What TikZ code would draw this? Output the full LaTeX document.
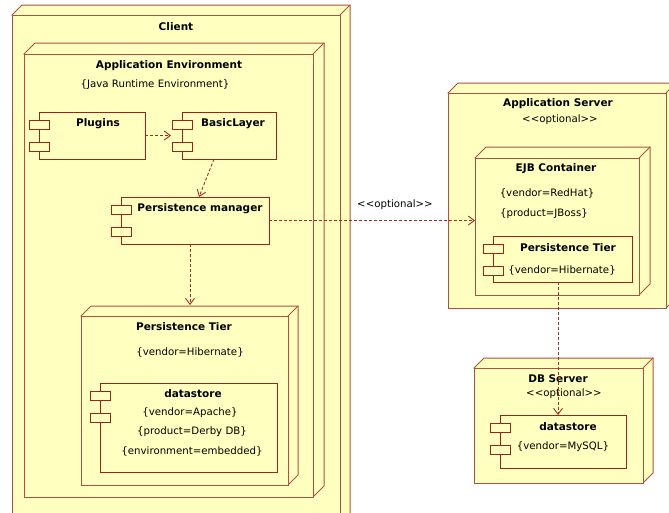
\documentclass[tikz,border=0pt]{standalone}
\usepackage{fontspec}
\setmainfont{DejaVu Sans}
\usetikzlibrary{arrows.meta,calc}
\definecolor{uyellow}{RGB}{255,255,192}
\definecolor{nodeline}{RGB}{175,80,65}
\definecolor{compline}{RGB}{155,35,30}
\definecolor{depline}{RGB}{160,45,40}
\newcommand{\udbox}[6]{%
  \pgfmathsetmacro\udw{#4-#2}\pgfmathsetmacro\udh{#5-#3}%
  \draw[nodeline, fill=uyellow, line width=1pt] (#2,#3) -- ++(#6,-#6) -- ++(\udw,0) -- ++(0,\udh) -- (#4,#5) -- cycle;
  \node[udnode, minimum width=\udw pt, minimum height=\udh pt, anchor=north west] (#1) at (#2,#3) {};
  \draw[nodeline, line width=1pt] (#1.north east) -- ++(#6,-#6);
}
\newcommand{\ucomp}[5]{%
  \pgfmathsetmacro\udw{#4-#2}\pgfmathsetmacro\udh{#5-#3}%
  \node[comp, minimum width=\udw pt, minimum height=\udh pt, anchor=north west] (#1) at (#2,#3) {};
  \node[port, anchor=north west] (#1-p1) at (#2-10,#3+8) {};
  \node[port, anchor=north west] (#1-p2) at (#2-10,#3+30) {};
}
\begin{document}
\begin{tikzpicture}[x=1pt,y=-1pt,
  udnode/.style={draw=nodeline, fill=uyellow, line width=1pt, inner sep=0, outer sep=0},
  comp/.style={draw=compline, fill=uyellow, line width=1pt, inner sep=0, outer sep=0},
  port/.style={draw=compline, fill=uyellow, line width=1pt, inner sep=0, outer sep=0, minimum width=20pt, minimum height=9pt},
  lbl/.style={font=\fontsize{10.2}{12}\selectfont, inner sep=0, text=black},
  blbl/.style={font=\fontsize{10.5}{12}\selectfont\bfseries, inner sep=0, text=black},
  dep/.style={draw=depline, line width=0.9pt, dash pattern=on 3pt off 2pt, -{Straight Barb[length=6pt,width=9pt]}}]
\useasboundingbox (0,0) rectangle (669,512);
\clip (0,0) rectangle (669,512);
\fill[white] (0,0) rectangle (669,512);

% Client
\udbox{client}{12}{15}{340}{525}{10}
\node[blbl] (tclient) at (176,27) {Client};
% Application Environment
\udbox{appenv}{24}{54}{313}{497}{11}
\node[blbl] (tappenv) at (169,66) {Application Environment};
\node[lbl] (tjre) at (155,85) {\{Java Runtime Environment\}};

\ucomp{plugins}{39}{112}{145}{159}
\node[blbl] (tplugins) at (98,124) {Plugins};
\ucomp{basic}{182}{112}{276}{159}
\node[blbl] (tbasic) at (233,124) {BasicLayer};
\ucomp{pm}{121}{197}{269}{244}
\node[blbl] (tpm) at (200,209) {Persistence manager};

% Persistence Tier (left)
\udbox{ptl}{81}{316}{288}{485}{10}
\node[blbl] (tptl) at (184,327) {Persistence Tier};
\node[lbl] (tptlv) at (190,352) {\{vendor=Hibernate\}};
\ucomp{dsl}{100}{383}{277}{472}
\node[blbl] (tdsl) at (193,394) {datastore};
\node[lbl] (tdsl1) at (190,413) {\{vendor=Apache\}};
\node[lbl] (tdsl2) at (192,432) {\{product=Derby DB\}};
\node[lbl] (tdsl3) at (192,451) {\{environment=embedded\}};

% Application Server
\udbox{appsrv}{448}{93}{666}{308}{10}
\node[blbl] (tappsrv) at (558,104) {Application Server};
\node[lbl] (tappsrvo) at (560,120) {<{}<optional>{}>};
\udbox{ejb}{475}{158}{639}{295}{11}
\node[blbl] (tejb) at (556,169) {EJB Container};
\node[lbl] (tejb1) at (547,193) {\{vendor=RedHat\}};
\node[lbl] (tejb2) at (544,214) {\{product=JBoss\}};
\ucomp{ptr}{493}{236}{632}{282}
\node[blbl] (tptr) at (568,248) {Persistence Tier};
\node[lbl] (tptr1) at (562,270) {\{vendor=Hibernate\}};

% DB Server
\udbox{dbsrv}{474}{368}{643}{483}{10}
\node[blbl] (tdbsrv) at (558,379) {DB Server};
\node[lbl] (tdbsrvo) at (564,394) {<{}<optional>{}>};
\ucomp{dsr}{500}{415}{626}{468}
\node[blbl] (tdsr) at (568,427) {datastore};
\node[lbl] (tdsr1) at (563,447) {\{vendor=MySQL\}};

% dependencies
\draw[dep] (plugins.east) -- ($(basic.west)+(-11,0)$);
\draw[dep] ($(basic.south west)+(32,0)$) -- ($(pm.north west)+(78,0)$);
\draw[dep] ($(pm.south)+(-5,0)$) -- ($(ptl.north)+(5.5,-11)$);
\draw[dep] (pm.east) -- (pm.east -| ejb.west);
\node[lbl] (topt) at (395,205) {<{}<optional>{}>};
\draw[dep] ($(ptr.south)+(-4.5,0)$) -- ($(dsr.north)+(-5,0)$);
\end{tikzpicture}
\end{document}
